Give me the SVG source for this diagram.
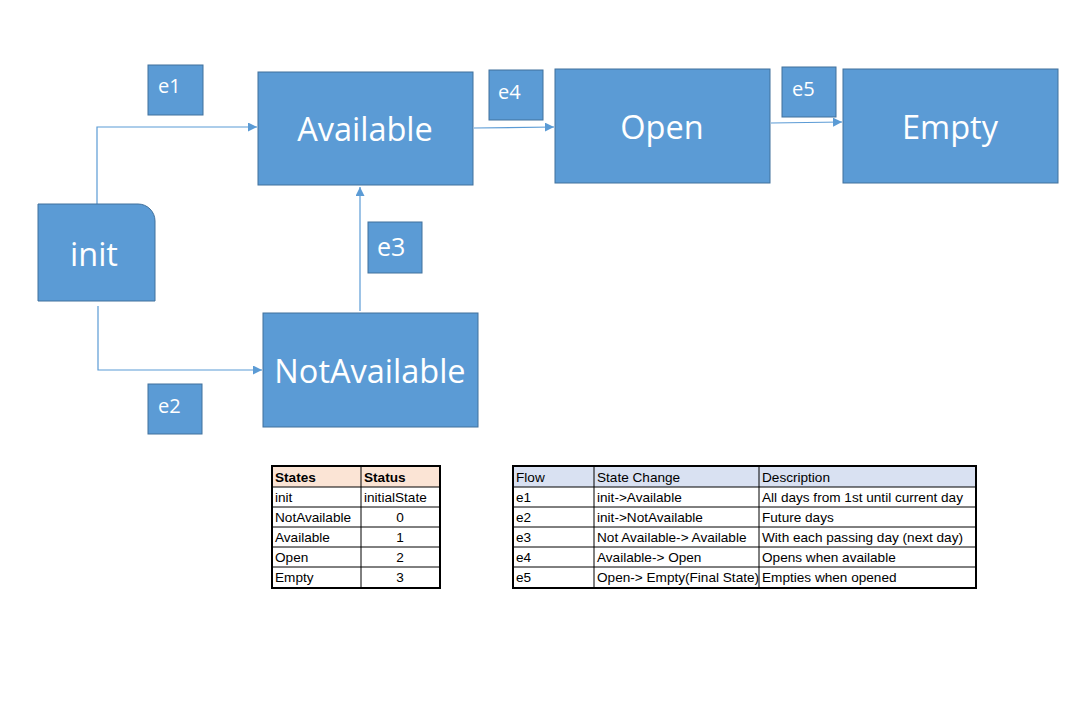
<svg xmlns="http://www.w3.org/2000/svg" width="1087" height="711" viewBox="0 0 1087 711">
<style>
.node{fill:#5B9BD5;stroke:#41719C;stroke-width:1}
.lbl{fill:#5B9BD5;stroke:#41719C;stroke-width:1}
.big{font-family:"Open Sans","Liberation Sans",sans-serif;font-size:32.5px;fill:#fff;text-anchor:middle}
.small{font-family:"Open Sans","Liberation Sans",sans-serif;font-size:20px;fill:#fff}
.conn{fill:none;stroke:#5B9BD5;stroke-width:1.2}
.t{font-family:"Liberation Sans",Arial,sans-serif;font-size:13.6px;fill:#000}
.tb{font-weight:bold}
.c{text-anchor:middle}
</style>
<defs>
<marker id="arr" viewBox="0 0 10 10" refX="10" refY="5" markerWidth="9" markerHeight="9" markerUnits="userSpaceOnUse" orient="auto">
<path d="M0,0 L10,5 L0,10 z" fill="#5B9BD5"/>
</marker>
</defs>
<rect width="1087" height="711" fill="#fff"/>
<g id="connectors">
<path class="conn" d="M97,204 V127 H257" marker-end="url(#arr)"/>
<path class="conn" d="M98,306 V370 H262" marker-end="url(#arr)"/>
<path class="conn" d="M360,311 V187" marker-end="url(#arr)"/>
<path class="conn" d="M474,128 L554,127" marker-end="url(#arr)"/>
<path class="conn" d="M771,123 L842,122" marker-end="url(#arr)"/>
</g>
<g id="init">
<path class="node" d="M38,204 H138 A17,17 0 0 1 155,221 V301 H38 Z"/>
<text class="big" x="94" y="266">init</text>
</g>
<g id="available">
<rect class="node" x="258" y="72" width="215" height="113"/>
<text class="big" x="365" y="141">Available</text>
</g>
<g id="open">
<rect class="node" x="555" y="69" width="215" height="114"/>
<text class="big" x="662" y="139">Open</text>
</g>
<g id="empty">
<rect class="node" x="843" y="69" width="215" height="114"/>
<text class="big" x="950" y="139">Empty</text>
</g>
<g id="notavailable">
<rect class="node" x="263" y="313" width="215" height="114"/>
<text class="big" x="370" y="383">NotAvailable</text>
</g>
<g id="e1">
<rect class="lbl" x="148" y="65" width="55" height="50"/>
<text class="small" x="158" y="93">e1</text>
</g>
<g id="e2">
<rect class="lbl" x="148" y="384" width="54" height="50"/>
<text class="small" x="158" y="413">e2</text>
</g>
<g id="e3">
<rect class="lbl" x="368" y="222" width="54" height="51"/>
<text class="small" x="377" y="256" style="font-size:25px">e3</text>
</g>
<g id="e4">
<rect class="lbl" x="489" y="70" width="54" height="50"/>
<text class="small" x="498" y="99">e4</text>
</g>
<g id="e5">
<rect class="lbl" x="782" y="67" width="54" height="50"/>
<text class="small" x="792" y="96">e5</text>
</g>
<g id="states-table">
<rect x="272" y="466" width="168" height="21" fill="#FBE4D5"/>
<rect x="272" y="487" width="168" height="101" fill="#fff"/>
<g stroke="#000" stroke-width="1">
<line x1="272" y1="487" x2="440" y2="487"/>
<line x1="272" y1="507" x2="440" y2="507"/>
<line x1="272" y1="527" x2="440" y2="527"/>
<line x1="272" y1="547" x2="440" y2="547"/>
<line x1="272" y1="567" x2="440" y2="567"/>
<line x1="361" y1="466" x2="361" y2="588"/>
</g>
<rect x="272" y="466" width="168" height="122" fill="none" stroke="#000" stroke-width="2"/>
<text class="t tb" x="275" y="482">States</text>
<text class="t tb" x="364" y="482">Status</text>
<text class="t" x="275" y="502">init</text>
<text class="t" x="364" y="502">initialState</text>
<text class="t" x="275" y="522">NotAvailable</text>
<text class="t c" x="400" y="522">0</text>
<text class="t" x="275" y="542">Available</text>
<text class="t c" x="400" y="542">1</text>
<text class="t" x="275" y="562">Open</text>
<text class="t c" x="400" y="562">2</text>
<text class="t" x="275" y="582">Empty</text>
<text class="t c" x="400" y="582">3</text>
</g>
<g id="flow-table">
<rect x="513" y="466" width="463" height="21" fill="#D9E1F2"/>
<rect x="513" y="487" width="463" height="101" fill="#fff"/>
<g stroke="#000" stroke-width="1">
<line x1="513" y1="487" x2="976" y2="487"/>
<line x1="513" y1="507" x2="976" y2="507"/>
<line x1="513" y1="527" x2="976" y2="527"/>
<line x1="513" y1="547" x2="976" y2="547"/>
<line x1="513" y1="567" x2="976" y2="567"/>
<line x1="594" y1="466" x2="594" y2="588"/>
<line x1="759" y1="466" x2="759" y2="588"/>
</g>
<rect x="513" y="466" width="463" height="122" fill="none" stroke="#000" stroke-width="2"/>
<text class="t" x="516" y="482">Flow</text>
<text class="t" x="597" y="482">State Change</text>
<text class="t" x="762" y="482">Description</text>
<text class="t" x="516" y="502">e1</text>
<text class="t" x="597" y="502">init-&gt;Available</text>
<text class="t" x="762" y="502">All days from 1st until current day</text>
<text class="t" x="516" y="522">e2</text>
<text class="t" x="597" y="522">init-&gt;NotAvailable</text>
<text class="t" x="762" y="522">Future days</text>
<text class="t" x="516" y="542">e3</text>
<text class="t" x="597" y="542">Not Available-&gt; Available</text>
<text class="t" x="762" y="542">With each passing day (next day)</text>
<text class="t" x="516" y="562">e4</text>
<text class="t" x="597" y="562">Available-&gt; Open</text>
<text class="t" x="762" y="562">Opens when available</text>
<text class="t" x="516" y="582">e5</text>
<text class="t" x="597" y="582">Open-&gt; Empty(Final State)</text>
<text class="t" x="762" y="582">Empties when opened</text>
</g>
</svg>
